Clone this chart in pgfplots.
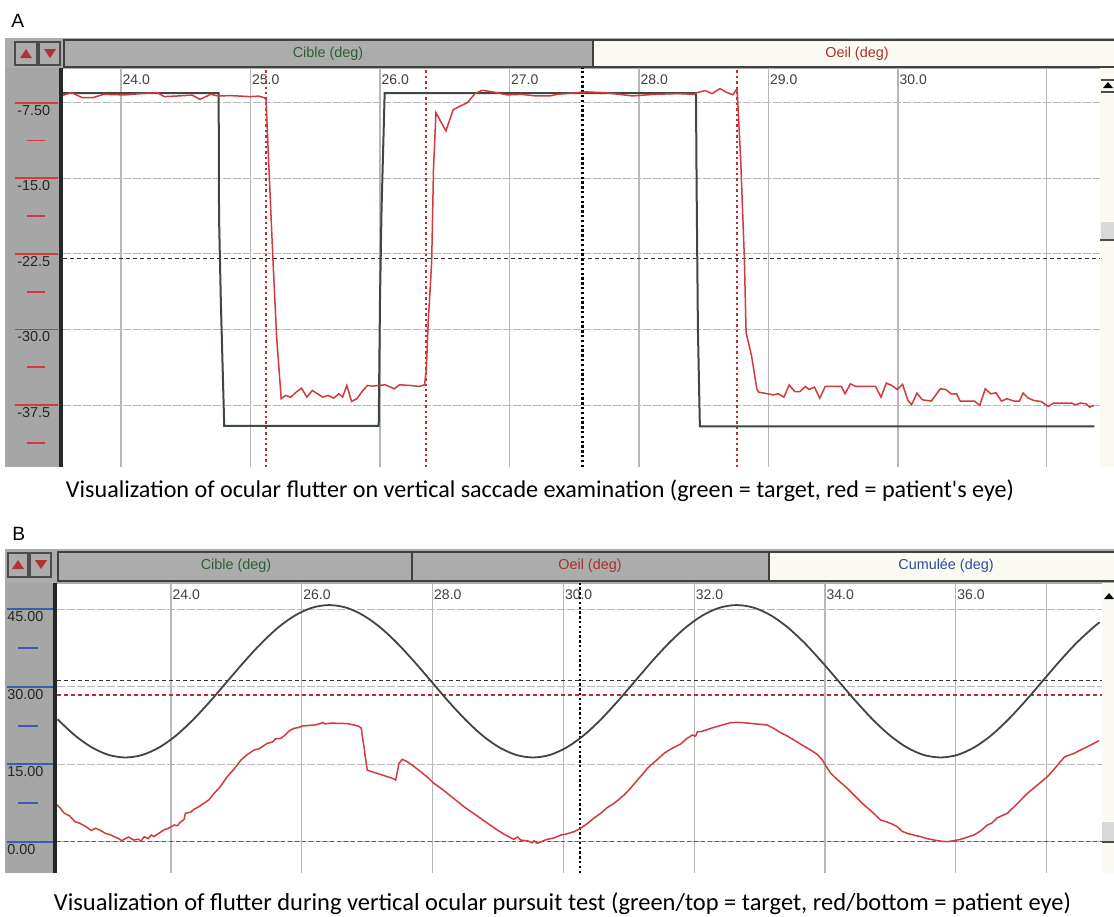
\documentclass[border=0pt]{standalone}
\usepackage{fontspec}
\setmainfont{Carlito}
\newfontfamily\ui{Liberation Sans}
\usepackage{pgfplots}
\pgfplotsset{compat=1.18}
\definecolor{tgt}{HTML}{3E4842}
\definecolor{eye}{HTML}{D23A40}
\definecolor{gridc}{HTML}{B8B8B8}
\definecolor{strip}{HTML}{A6A6A6}
\definecolor{tab}{HTML}{ACACAC}
\definecolor{tabw}{HTML}{FAFAF3}
\definecolor{cgreen}{HTML}{2E5E36}
\definecolor{cred}{HTML}{A8322E}
\definecolor{cblue}{HTML}{2C4C9C}
\definecolor{sblue}{HTML}{3F5BB0}
\pgfplotsset{ecran/.style={
  scale only axis, axis line style={draw=none}, major tick length=0pt,
  xmajorgrids, ymajorgrids,
  x grid style={gridc, line width=0.55pt},
  y grid style={gridc, line width=0.55pt, dash pattern=on 4pt off 1pt},
  extra x tick style={grid=major},
  xticklabel pos=upper,
  xticklabel style={anchor=north west, inner sep=0pt, text=black!75, font=\ui\fontsize{7}{8}\selectfont, xshift=0.6pt, yshift=-3.3pt},
  yticklabel style={anchor=north west, inner sep=0pt, text=black!85, font=\ui\fontsize{7.2}{8}\selectfont, yshift=-1pt},
  clip=true,
}}
\begin{document}
\begin{tikzpicture}
% ---------- decorations in pixel units (y downwards) ----------
\begin{scope}[x=0.5pt,y=-0.5pt]
\useasboundingbox (0,0) rectangle (1114,916);
\fill[white] (0,0) rectangle (1114,916);
% ===== Panel A =====
\node[anchor=base west, inner sep=0, font=\ui\fontsize{9.6}{10}\selectfont] at (11,27) {A};
\fill[tab] (5,38) rectangle (1114,69);
\draw[fill=tab, draw=black!70, line width=0.8pt] (15,42) rectangle (37,65);
\fill[eye!85!black] (20,58) -- (32,58) -- (26,49) -- cycle;
\draw[fill=tab, draw=black!70, line width=0.8pt] (39,42) rectangle (60,65);
\fill[eye!85!black] (44,49) -- (56,49) -- (50,58) -- cycle;
\draw[fill=tab, draw=black!75, line width=1.1pt] (64,40) rectangle (593,67);
\draw[fill=tabw, draw=black!75, line width=1.1pt] (593,40) rectangle (1118,67);
\node[text=cgreen, font=\ui\fontsize{7.2}{8}\selectfont] at (328,54) {Cible (deg)};
\node[text=cred, font=\ui\fontsize{7.2}{8}\selectfont] at (857,54) {Oeil (deg)};
\fill[strip] (5,68) rectangle (60,467);
\fill[black!85] (59,68) rectangle (63,467);
\fill[tabw] (1100,68) rectangle (1114,467);
\fill[black] (1103,88) -- (1113,88) -- (1108,82) -- cycle;
\draw[black!70, line width=0.6pt] (1101,80) -- (1114,80) (1101,92) -- (1114,92);
\fill[black!15] (1101,222) rectangle (1114,240);
\draw[black!70, line width=1pt] (1100,240) -- (1114,240);
% ===== Panel B =====
\node[anchor=base west, inner sep=0, font=\ui\fontsize{9.6}{10}\selectfont] at (12,540) {B};
\fill[tab] (5,549) rectangle (1114,584);
\draw[fill=tab, draw=black!70, line width=0.8pt] (8,553) rectangle (28,577);
\fill[eye!85!black] (12,569) -- (24,569) -- (18,560) -- cycle;
\draw[fill=tab, draw=black!70, line width=0.8pt] (30,553) rectangle (51,577);
\fill[eye!85!black] (35,560) -- (47,560) -- (41,569) -- cycle;
\draw[fill=tab, draw=black!75, line width=1.1pt] (58,552) rectangle (412,581);
\draw[fill=tab, draw=black!75, line width=1.1pt] (412,552) rectangle (769,581);
\draw[fill=tabw, draw=black!75, line width=1.1pt] (769,552) rectangle (1118,581);
\node[text=cgreen, font=\ui\fontsize{7.2}{8}\selectfont] at (236,566) {Cible (deg)};
\node[text=cred, font=\ui\fontsize{7.2}{8}\selectfont] at (590,566) {Oeil (deg)};
\node[text=cblue, font=\ui\fontsize{7.2}{8}\selectfont] at (946,566) {Cumulée (deg)};
\fill[strip] (5,583) rectangle (55,873);
\fill[black!85] (53,583) rectangle (57,873);
\fill[tabw] (1102,583) rectangle (1114,873);
\fill[black] (1104,599) -- (1114,599) -- (1109,593) -- cycle;
\fill[black!15] (1102,822) rectangle (1114,842);
\draw[black!70, line width=1pt] (1102,842) -- (1114,842);
\end{scope}

% ---------- Panel A axis ----------
\begin{axis}[ecran, at={(31.5pt,-233.5pt)}, anchor=south west,
  width=518.5pt, height=199.5pt,
  xmin=23.552, xmax=31.56, ymin=-43.64, ymax=-4.06,
  xtick={24,25,26,27,28,29,30},
  xticklabels={24.0,25.0,26.0,27.0,28.0,29.0,30.0},
  extra x ticks={31.15}, extra x tick labels={},
  ytick={-37.5,-30,-22.5,-15,-7.5},
  yticklabels={-37.5,-30.0,-22.5,-15.0,-7.50},
  yticklabel style={xshift=-23pt}]
% reference lines
\addplot[black!80, line width=0.7pt, dash pattern=on 2pt off 1.5pt] coordinates {(23.552,-22.94) (31.56,-22.94)};
\addplot[eye!85!black, line width=0.7pt, dash pattern=on 1.2pt off 1.5pt] coordinates {(25.12,-43.64) (25.12,-4.06)};
\addplot[eye!85!black, line width=0.7pt, dash pattern=on 1.2pt off 1.5pt] coordinates {(26.355,-43.64) (26.355,-4.06)};
\addplot[eye!85!black, line width=0.7pt, dash pattern=on 1.2pt off 1.5pt] coordinates {(28.757,-43.64) (28.757,-4.06)};
\addplot[black, line width=1.1pt, dash pattern=on 1.2pt off 1.2pt] coordinates {(27.563,-43.64) (27.563,-4.06)};
% target
\addplot[tgt, line width=1pt] table {
23.552 -6.55
24.754 -6.55
24.757 -18.9
24.771 -27.3
24.797 -39.55
25.990 -39.55
26.000 -27.0
26.012 -18.0
26.036 -6.55
28.440 -6.55
28.445 -16.0
28.455 -30.0
28.470 -39.6
31.516 -39.6
};
% eye
\addplot[eye, line width=0.75pt] table {
23.552 -6.77
23.617 -6.50
23.700 -7.00
23.783 -7.00
23.865 -6.67
24.031 -6.73
24.150 -6.60
24.279 -6.50
24.334 -6.90
24.445 -6.83
24.550 -6.75
24.610 -7.17
24.693 -6.67
24.748 -6.83
24.850 -6.80
24.996 -6.90
25.060 -6.85
25.106 -7.00
25.120 -7.20
25.137 -12.45
25.173 -23.00
25.201 -30.60
25.237 -36.87
25.270 -36.54
25.311 -36.71
25.353 -36.21
25.394 -35.82
25.435 -36.71
25.477 -36.05
25.518 -36.38
25.559 -36.71
25.600 -36.54
25.642 -36.81
25.683 -36.38
25.711 -36.71
25.744 -35.55
25.780 -37.14
25.821 -36.87
25.862 -36.15
25.903 -35.55
25.945 -35.62
25.986 -35.55
26.041 -35.49
26.082 -35.72
26.110 -35.88
26.151 -35.49
26.234 -35.55
26.303 -35.65
26.344 -35.49
26.358 -33.90
26.372 -29.30
26.399 -23.30
26.413 -14.10
26.432 -8.50
26.509 -10.30
26.565 -8.20
26.620 -7.83
26.675 -7.50
26.733 -6.60
26.789 -6.27
26.871 -6.43
26.982 -6.73
27.092 -6.67
27.200 -6.83
27.313 -6.83
27.368 -6.67
27.591 -6.43
27.730 -6.50
27.952 -6.83
28.119 -6.67
28.300 -6.60
28.424 -6.67
28.448 -6.50
28.510 -6.30
28.564 -6.60
28.625 -6.10
28.680 -6.50
28.726 -6.70
28.757 -6.10
28.763 -7.50
28.785 -13.10
28.813 -22.70
28.827 -30.30
28.869 -32.60
28.910 -35.90
28.924 -36.21
29.035 -36.48
29.077 -36.38
29.119 -36.71
29.160 -35.49
29.202 -36.15
29.244 -36.15
29.285 -35.65
29.313 -35.95
29.355 -35.72
29.396 -36.81
29.438 -35.65
29.563 -35.65
29.591 -36.38
29.632 -35.39
29.674 -35.65
29.827 -35.65
29.869 -36.71
29.910 -35.32
29.952 -35.55
29.994 -35.95
30.035 -35.45
30.077 -37.04
30.105 -37.47
30.146 -36.31
30.188 -36.97
30.257 -37.10
30.327 -35.88
30.369 -35.95
30.410 -36.38
30.452 -36.38
30.480 -37.10
30.591 -37.10
30.632 -37.53
30.674 -35.88
30.716 -36.38
30.757 -36.28
30.799 -37.10
30.841 -36.87
30.896 -37.10
30.938 -37.10
30.966 -36.31
31.007 -36.81
31.049 -37.04
31.105 -37.14
31.160 -37.63
31.202 -37.30
31.341 -37.30
31.369 -37.47
31.410 -37.30
31.452 -37.37
31.480 -37.70
31.513 -37.53
};
\end{axis}

% ---------- Panel B axis ----------
\begin{axis}[ecran, at={(28.5pt,-436.5pt)}, anchor=south west,
  width=522.5pt, height=145pt,
  xmin=22.257, xmax=38.235, ymin=-6.06, ymax=50.07,
  xtick={24,26,28,30,32,34,36},
  xticklabels={24.0,26.0,28.0,30.0,32.0,34.0,36.0},
  extra x ticks={37.39}, extra x tick labels={},
  ytick={0,15,30,45},
  yticklabels={0.00,15.00,30.00,45.00},
  yticklabel style={xshift=-25pt}]
\addplot[black!80, line width=0.7pt, dash pattern=on 2pt off 1.5pt] coordinates {(22.257,31.2) (38.235,31.2)};
\addplot[eye!85!black, line width=0.7pt, dash pattern=on 2pt off 1.5pt] coordinates {(22.257,28.4) (38.235,28.4)};
\addplot[sblue, line width=0.7pt, dash pattern=on 2pt off 1.5pt] coordinates {(22.257,0) (38.235,0)};
\addplot[black, line width=1.1pt, dash pattern=on 1.2pt off 1.2pt] coordinates {(30.25,-6.06) (30.25,50.07)};
% target
\addplot[tgt, line width=0.9pt, smooth] table {
22.266 23.68
22.526 20.62
22.786 18.28
23.045 16.80
23.305 16.30
23.564 16.80
23.824 18.28
24.084 20.62
24.343 23.68
24.603 27.23
24.862 31.05
25.122 34.87
25.382 38.43
25.641 41.48
25.901 43.82
26.160 45.30
26.420 45.80
26.680 45.30
26.939 43.82
27.199 41.48
27.458 38.43
27.718 34.87
27.978 31.05
28.237 27.23
28.497 23.68
28.756 20.62
29.016 18.28
29.276 16.80
29.535 16.30
29.795 16.80
30.054 18.28
30.314 20.62
30.574 23.68
30.833 27.23
31.093 31.05
31.352 34.87
31.612 38.43
31.872 41.48
32.131 43.82
32.391 45.30
32.650 45.80
32.910 45.30
33.170 43.82
33.429 41.48
33.689 38.43
33.948 34.87
34.208 31.05
34.468 27.23
34.727 23.68
34.987 20.62
35.246 18.28
35.506 16.80
35.766 16.30
36.025 16.80
36.285 18.28
36.544 20.62
36.804 23.68
37.064 27.23
37.323 31.05
37.583 34.87
37.842 38.43
38.102 41.48
38.200 42.47
};
% eye
\addplot[eye, line width=0.75pt] table {
22.233 7.42
22.300 6.60
22.370 5.49
22.450 5.00
22.530 3.88
22.600 3.60
22.700 2.91
22.780 2.20
22.850 2.60
22.910 2.26
23.000 1.60
23.080 1.29
23.130 0.97
23.190 0.65
23.250 0.20
23.280 0.45
23.350 0.90
23.430 0.32
23.500 0.50
23.540 0.10
23.590 0.97
23.650 0.60
23.700 1.29
23.740 1.00
23.800 1.50
23.890 2.26
23.960 2.60
24.050 3.23
24.100 3.10
24.150 3.87
24.200 4.30
24.220 5.49
24.300 5.70
24.350 6.26
24.430 6.80
24.500 7.42
24.580 8.10
24.660 9.36
24.750 10.60
24.860 12.58
24.960 14.00
25.070 15.81
25.170 16.90
25.270 17.74
25.350 18.00
25.470 19.03
25.550 19.30
25.600 19.90
25.680 20.00
25.760 20.80
25.800 21.40
25.880 21.94
25.950 22.10
26.010 22.39
26.100 22.50
26.200 22.60
26.290 22.90
26.320 23.10
26.350 22.80
26.450 22.95
26.590 22.90
26.700 22.85
26.800 22.58
26.880 22.30
26.910 21.94
26.930 20.00
26.951 18.39
26.970 16.50
27.000 13.87
27.080 13.50
27.155 13.23
27.230 12.90
27.310 12.58
27.380 12.30
27.435 11.94
27.460 13.50
27.486 15.16
27.537 15.94
27.614 15.48
27.700 14.70
27.818 13.55
27.920 12.50
28.020 11.29
28.120 10.40
28.225 9.36
28.350 8.10
28.480 6.77
28.600 5.70
28.735 4.52
28.860 3.40
28.990 2.26
29.100 1.40
29.240 0.45
29.300 0.90
29.350 0.30
29.450 0.19
29.520 -0.20
29.550 0.20
29.600 -0.32
29.680 0.10
29.750 0.45
29.850 0.70
29.960 1.29
30.050 1.50
30.160 1.94
30.250 2.50
30.370 3.55
30.470 4.60
30.570 5.49
30.670 6.60
30.774 7.42
30.850 8.20
30.927 9.03
31.030 10.40
31.131 11.94
31.200 12.90
31.284 14.20
31.400 15.50
31.539 17.10
31.650 18.00
31.793 18.90
31.880 19.90
31.972 20.65
32.020 20.40
32.050 21.30
32.100 21.29
32.200 21.70
32.303 22.13
32.430 22.60
32.558 23.03
32.660 23.10
32.762 23.03
32.860 22.90
32.966 22.77
33.118 22.58
33.220 21.90
33.322 21.10
33.430 20.40
33.526 19.68
33.650 18.70
33.781 17.74
33.880 16.90
33.960 15.81
34.020 14.50
34.087 13.23
34.200 11.90
34.342 10.32
34.470 8.70
34.597 7.10
34.700 6.00
34.851 4.19
34.950 3.80
35.030 3.40
35.106 2.90
35.180 2.00
35.259 1.61
35.350 1.30
35.463 0.97
35.560 0.60
35.667 0.32
35.770 0.10
35.871 0.00
35.970 0.20
36.075 0.45
36.180 0.90
36.278 1.29
36.380 2.10
36.482 3.23
36.550 3.60
36.630 4.60
36.788 5.49
36.950 7.50
37.094 9.36
37.250 11.00
37.400 12.58
37.500 14.00
37.655 16.32
37.700 16.60
37.808 17.10
37.900 17.70
38.012 18.39
38.190 19.55
};
\end{axis}

% ---------- strip ticks and captions ----------
\begin{scope}[x=0.5pt,y=-0.5pt]
\draw[eye, line width=0.9pt] (15,102.7) -- (58,102.7) (15,178.3) -- (58,178.3) (15,253.9) -- (58,253.9) (15,329.5) -- (58,329.5) (15,405.1) -- (58,405.1);
\draw[eye, line width=0.9pt] (27,140.5) -- (45,140.5) (27,216.1) -- (45,216.1) (27,291.7) -- (45,291.7) (27,367.3) -- (45,367.3) (27,442.9) -- (45,442.9);
\draw[sblue, line width=0.9pt] (7,841.7) -- (53,841.7) (7,764.2) -- (53,764.2) (7,686.7) -- (53,686.7) (7,609.2) -- (53,609.2);
\draw[sblue, line width=1pt] (18,803.0) -- (38,803.0) (18,726.0) -- (38,726.0) (18,647.9) -- (38,647.9);
\node[anchor=base, inner sep=0] at (540,497) {\resizebox{474pt}{!}{\fontsize{10.5}{12}\selectfont Visualization of ocular flutter on vertical saccade examination (green = target, red = patient\textquotesingle s eye)}};
\node[anchor=base, inner sep=0] at (562.5,910) {\resizebox{508.5pt}{!}{\fontsize{10.5}{12}\selectfont Visualization of flutter during vertical ocular pursuit test (green/top = target, red/bottom = patient eye)}};
\end{scope}
\end{tikzpicture}
\end{document}
